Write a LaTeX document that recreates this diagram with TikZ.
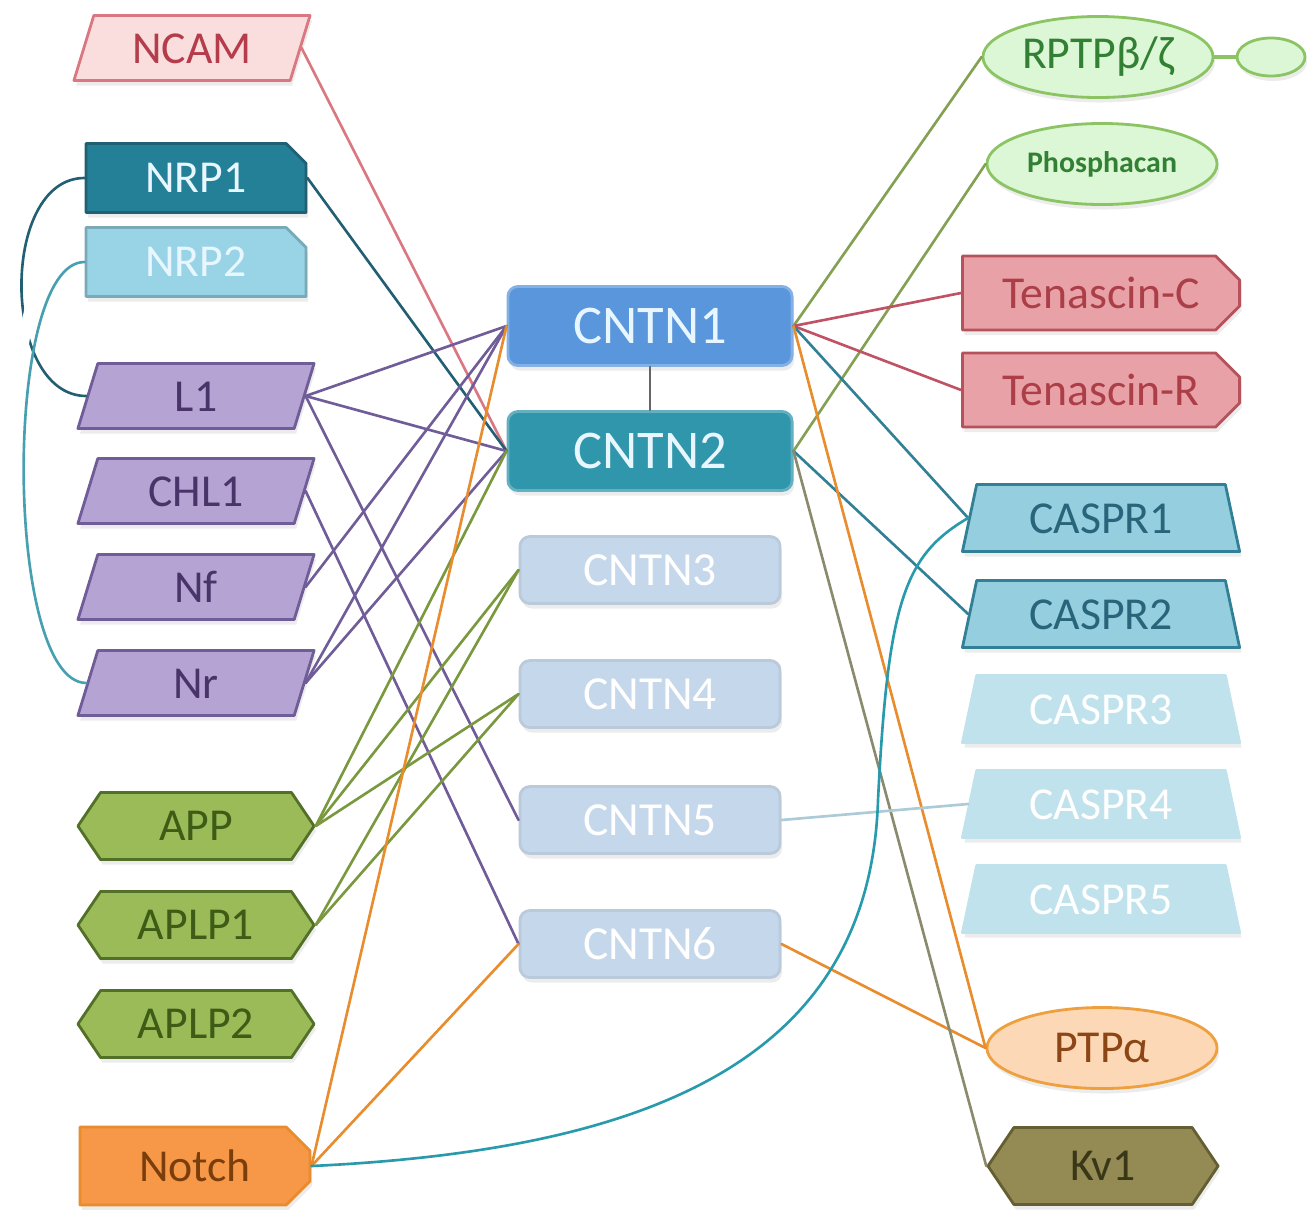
\documentclass[tikz,border=0pt]{standalone}
\usepackage{fontspec}
\setmainfont{Carlito}
\usepackage{tikz}
\usetikzlibrary{shapes.geometric,shapes.misc,shapes.symbols,shadows,positioning}

\definecolor{ncamfill}{RGB}{250,222,222}
\definecolor{ncamline}{RGB}{218,120,130}
\definecolor{ncamtext}{RGB}{180,60,75}
\definecolor{nrpafill}{RGB}{36,128,150}
\definecolor{nrpbfill}{RGB}{152,212,230}
\definecolor{nrpline}{RGB}{35,95,115}
\definecolor{nrpbline}{RGB}{70,160,175}
\definecolor{purfill}{RGB}{180,163,211}
\definecolor{purline}{RGB}{112,92,152}
\definecolor{purtext}{RGB}{72,52,104}
\definecolor{grnfill}{RGB}{155,187,89}
\definecolor{grnline}{RGB}{82,112,40}
\definecolor{grntext}{RGB}{62,92,22}
\definecolor{grnlink}{RGB}{122,152,62}
\definecolor{orgfill}{RGB}{247,152,72}
\definecolor{orgline}{RGB}{232,140,45}
\definecolor{orgtext}{RGB}{122,62,12}
\definecolor{cntnA}{RGB}{90,150,220}
\definecolor{cntnB}{RGB}{48,150,172}
\definecolor{cntnpale}{RGB}{197,215,235}
\definecolor{cntntext}{RGB}{232,246,255}
\definecolor{ovalfill}{RGB}{220,247,214}
\definecolor{ovalline}{RGB}{140,196,100}
\definecolor{ovaltext}{RGB}{50,128,52}
\definecolor{ovallink}{RGB}{132,160,82}
\definecolor{tenfill}{RGB}{232,162,167}
\definecolor{tenline}{RGB}{182,82,92}
\definecolor{tentext}{RGB}{172,62,72}
\definecolor{tenlink}{RGB}{192,82,102}
\definecolor{caspfill}{RGB}{148,206,223}
\definecolor{caspline}{RGB}{50,128,150}
\definecolor{casptext}{RGB}{40,100,122}
\definecolor{casppale}{RGB}{192,226,236}
\definecolor{ptpfill}{RGB}{252,216,182}
\definecolor{ptpline}{RGB}{238,160,62}
\definecolor{ptptext}{RGB}{140,70,22}
\definecolor{kvfill}{RGB}{148,138,84}
\definecolor{kvline}{RGB}{100,95,50}
\definecolor{kvtext}{RGB}{58,54,24}
\definecolor{kvlink}{RGB}{138,138,108}
\definecolor{palelink}{RGB}{172,202,216}

\tikzset{
  base/.style={font=\fontsize{13}{15}\selectfont, inner sep=0pt, line width=0.8pt,
    drop shadow={opacity=0.15, shadow xshift=0.02cm, shadow yshift=-0.05cm}},
  slantbox/.style={base, trapezium, trapezium left angle=73, trapezium right angle=107,
    trapezium stretches body, text height=0.3cm, text depth=0pt, inner ysep=0.175cm,
    minimum width=2.36cm},
  purbox/.style={slantbox, fill=purfill, draw=purline, text=purtext},
  snipbox/.style={base, chamfered rectangle, chamfered rectangle corners=north east,
    chamfered rectangle xsep=0.1cm, chamfered rectangle ysep=0.1cm,
    minimum width=2.2cm, minimum height=0.69cm},
  hexbox/.style={base, signal, signal to=east and west, signal pointer angle=112,
    minimum width=2.36cm, minimum height=0.67cm},
  grnbox/.style={hexbox, fill=grnfill, draw=grnline, text=grntext},
  cntnbox/.style={base, rounded corners=0.1cm, minimum width=2.84cm, minimum height=0.79cm,
    text=cntntext, font=\fontsize{15.5}{18}\selectfont},
  cntnsmall/.style={base, rounded corners=0.1cm, minimum width=2.6cm, minimum height=0.67cm,
    fill=cntnpale, draw=cntnpale!85!gray, text=white, font=\fontsize{13.5}{16}\selectfont},
  ovalbox/.style={base, ellipse, minimum width=2.3cm, minimum height=0.81cm},
  tenbox/.style={base, chamfered rectangle, chamfered rectangle corners={north east,south east},
    chamfered rectangle xsep=0.12cm, chamfered rectangle ysep=0.12cm,
    minimum width=2.77cm, minimum height=0.74cm, fill=tenfill, draw=tenline, text=tentext},
  casprbox/.style={base, trapezium, trapezium left angle=78, trapezium right angle=78,
    trapezium stretches body, text height=0.3cm, text depth=0pt, inner ysep=0.185cm,
    minimum width=2.77cm},
  link/.style={line width=0.75pt}
}

\begin{document}
\begin{tikzpicture}[line cap=round,line join=round,x=0.01cm,y=-0.01cm]
\useasboundingbox (0,0) rectangle (1307,1209);

% left column
\node[slantbox, fill=ncamfill, draw=ncamline, text=ncamtext] (ncam) at (192,48) {NCAM};
\node[snipbox, fill=nrpafill, draw=nrpline, text=cntntext] (nrp1) at (196,178) {NRP1};
\node[snipbox, fill=nrpbfill, draw=nrpbfill!80!black, text=cntntext] (nrp2) at (196,262) {NRP2};
\foreach \nm/\t/\y in {l1/L1/396, chl1/CHL1/491, nf/Nf/587, nr/Nr/683}
{
    \node[purbox] (\nm) at (196,\y) {\t};
};
\foreach \nm/\t/\y in {app/APP/826, aplp1/APLP1/925, aplp2/APLP2/1024}
{
    \node[grnbox] (\nm) at (196,\y) {\t};
};
\node[tenbox, minimum width=2.3cm, minimum height=0.78cm, fill=orgfill, draw=orgline, text=orgtext] (notch) at (195,1166) {Notch};

% middle column
\node[cntnbox, fill=cntnA, draw=cntnA!75!white] (cntn1) at (650,326) {CNTN1};
\node[cntnbox, fill=cntnB, draw=cntnB!75!white] (cntn2) at (650,451) {CNTN2};
\foreach \i/\y in {3/570, 4/694, 5/820, 6/944}
{
    \node[cntnsmall] (cntn\i) at (650,\y) {CNTN\i};
};

% right column
\node[ovalbox, fill=ovalfill, draw=ovalline, text=ovaltext] (rptp) at (1098,57) {RPTPβ/ζ};
\node[ovalbox, minimum width=0.68cm, minimum height=0.38cm, fill=ovalfill, draw=ovalline] (rptptail) at (1271,57) {};
\node[ovalbox, fill=ovalfill, draw=ovalline, text=ovaltext, font=\fontsize{8.5}{10}\selectfont\bfseries] (phos) at (1102,164) {Phosphacan};
\node[tenbox] (tenc) at (1101,293) {Tenascin-C};
\node[tenbox] (tenr) at (1101,390) {Tenascin-R};
\foreach \i/\y in {1/518, 2/614}
{
    \node[casprbox, fill=caspfill, draw=caspline, text=casptext] (caspr\i) at (1101,\y) {CASPR\i};
};
\foreach \i/\y in {3/709, 4/804, 5/899}
{
    \node[casprbox, fill=casppale, draw=casppale, text=white] (caspr\i) at (1101,\y) {CASPR\i};
};
\node[ovalbox, fill=ptpfill, draw=ptpline, text=ptptext] (ptpa) at (1102,1048) {PTPα};
\node[hexbox, minimum width=2.3cm, minimum height=0.77cm, fill=kvfill, draw=kvline, text=kvtext] (kv1) at (1103,1166) {Kv1};

% connectors
\draw[link, black!60] (cntn1) -- (cntn2);
\draw[line width=1.4pt, ovalline] (rptp) -- (rptptail);

\draw[link, ncamline] (ncam.east) -- (cntn2.west);
\draw[link, nrpline] (nrp1.east) -- (cntn2.west);
\draw[link, nrpline] (nrp1.west) to[out=180,in=180] (l1.west);
\draw[link, nrpbline, preaction={draw=white, line width=3pt, shorten <=8pt, shorten >=8pt}] (nrp2.west) to[out=180,in=180,looseness=0.5] (nr.west);

\foreach \a/\b in {l1/cntn1, l1/cntn2, l1/cntn5, chl1/cntn6, nf/cntn1, nr/cntn1, nr/cntn2}
    \draw[link, purline] (\a.east) -- (\b.west);
\foreach \a/\b in {app/cntn2, app/cntn3, app/cntn4, aplp1/cntn3, aplp1/cntn4}
    \draw[link, grnlink] (\a.east) -- (\b.west);
\foreach \b in {cntn1, cntn6}
    \draw[link, orgline] (notch.east) -- (\b.west);

\draw[link, ovallink] (cntn1.east) -- (rptp.west);
\draw[link, ovallink] (cntn2.east) -- (phos.west);
\foreach \b in {tenc, tenr}
    \draw[link, tenlink] (cntn1.east) -- (\b.west);
\draw[link, caspline] (cntn1.east) -- (caspr1.west);
\draw[link, caspline] (cntn2.east) -- (caspr2.west);
\draw[link, orgline] (cntn1.east) -- (ptpa.west);
\draw[link, orgline] (cntn6.east) -- (ptpa.west);
\draw[link, kvlink] (cntn2.east) -- (kv1.west);
\draw[link, palelink] (cntn5.east) -- (caspr4.west);
\coordinate (bend) at (878,800);
\draw[link, caspline!80!cyan] (notch.east) .. controls (650,1150) and (870,1060) .. (bend)
    .. controls (888,600) and (905,555) .. (caspr1.west);
\end{tikzpicture}
\end{document}
